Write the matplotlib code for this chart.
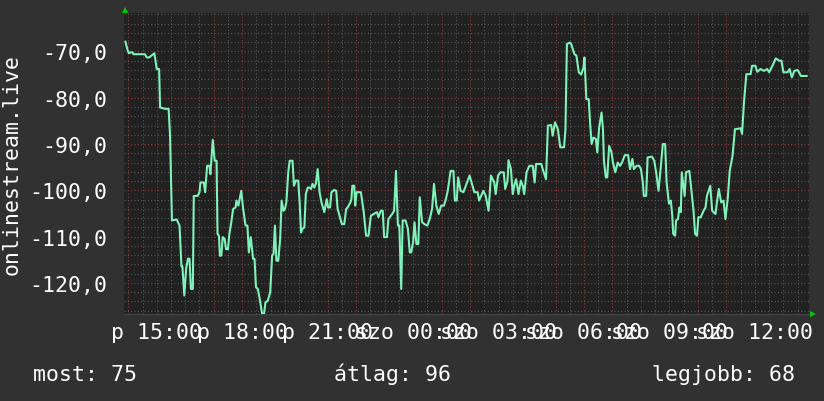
import numpy as np
import pandas as pd
import matplotlib
matplotlib.use("Agg")
import matplotlib.pyplot as plt
import matplotlib.dates as mdates
from matplotlib.ticker import MultipleLocator, FuncFormatter
from matplotlib.transforms import ScaledTranslation

# ---------------- data ----------------
START = pd.Timestamp("2024-03-01 14:00")  # péntek 14:00
series_label = "onlinestream.live"
day_names = {4: "p", 5: "szo"}
stat_names = ["most", "átlag", "legjobb"]
stat_values = [75, 96, 68]

# minutes after START
minutes = [
    -6, -2, 1, 5, 9, 11, 35, 39, 44, 49, 55, 60, 65, 67, 78, 85, 88, 92, 102, 108,
    112, 114, 118, 122, 126, 129, 132, 136, 138, 146, 150, 152, 159, 162, 166, 171, 173, 178, 182, 186,
    188, 191, 193, 196, 199, 203, 206, 210, 213, 217, 221, 226, 228, 232, 234, 238, 242, 247, 251, 254,
    258, 263, 266, 269, 273, 277, 282, 286, 289, 294, 299, 303, 306, 309, 312, 316, 320, 323, 327, 330,
    333, 337, 340, 346, 349, 353, 358, 361, 364, 367, 371, 374, 378, 381, 385, 388, 392, 395, 399, 403,
    407, 413, 418, 421, 425, 428, 434, 438, 441, 447, 450, 455, 459, 462, 468, 470, 472, 476, 478, 481,
    490, 496, 501, 506, 511, 517, 524, 527, 532, 536, 539, 545, 548, 556, 560, 564, 568, 571, 575, 578,
    584, 589, 593, 596, 600, 603, 607, 611, 614, 619, 624, 630, 635, 640, 644, 649, 654, 659, 665, 669,
    673, 679, 685, 688, 692, 695, 700, 706, 719, 725, 729, 736, 739, 748, 753, 759, 764, 771, 774, 779,
    784, 791, 794, 799, 801, 806, 810, 813, 817, 822, 827, 831, 834, 839, 845, 852, 856, 859, 870, 873,
    880, 884, 891, 894, 899, 905, 910, 918, 921, 924, 930, 933, 940, 944, 949, 954, 959, 961, 965, 970,
    973, 976, 980, 985, 988, 992, 997, 1000, 1002, 1006, 1009, 1013, 1018, 1021, 1026, 1031, 1036, 1040, 1046, 1053,
    1057, 1062, 1065, 1071, 1076, 1080, 1084, 1086, 1091, 1094, 1103, 1108, 1112, 1117, 1122, 1126, 1131, 1134, 1139, 1143,
    1146, 1148, 1152, 1154, 1158, 1161, 1164, 1166, 1172, 1175, 1182, 1186, 1191, 1194, 1198, 1201, 1206, 1212, 1216, 1219,
    1226, 1230, 1237, 1240, 1244, 1249, 1254, 1258, 1263, 1267, 1273, 1278, 1290, 1293, 1297, 1302, 1311, 1314, 1321, 1325,
    1332, 1339, 1346, 1350, 1357, 1364, 1371, 1376, 1380, 1389, 1393, 1398, 1403, 1410, 1413, 1417, 1429,
]
values = [
    -67.9, -69.5, -70.4, -70.2, -70.2, -70.6, -70.6, -71.3, -71.3, -70.9, -70.4, -73.8, -73.8, -82.1, -82.4, -82.4, -88.1, -106.5, -106.3, -107.6,
    -116.4, -116.4, -122.7, -116.8, -114.7, -114.8, -121.3, -121.3, -101.2, -101.2, -100.4, -98.3, -98.3, -100.4, -94.7, -94.7, -96.5, -89.1, -93.6, -93.6,
    -109.4, -109.8, -114.1, -114.1, -110.1, -110.5, -112.7, -112.7, -109.4, -106.9, -104.0, -103.7, -102.2, -103.3, -102.2, -100.1, -104.0, -107.6, -107.6, -113.4,
    -110.1, -114.8, -114.8, -120.9, -121.3, -123.5, -126.7, -126.7, -124.2, -123.8, -122.0, -114.1, -113.7, -107.6, -115.2, -115.2, -110.5, -102.2, -104.4, -104.0,
    -102.6, -96.1, -93.6, -93.6, -99.0, -97.9, -97.9, -102.6, -109.1, -108.3, -108.0, -100.8, -99.4, -99.4, -99.7, -98.6, -99.4, -98.6, -95.4, -100.4,
    -102.6, -104.7, -101.9, -103.7, -103.7, -100.4, -99.9, -100.1, -104.0, -106.2, -107.3, -107.3, -104.0, -103.7, -102.6, -101.9, -99.0, -99.0, -103.3, -100.4,
    -100.4, -104.7, -109.8, -109.8, -105.5, -105.1, -104.7, -105.8, -104.4, -104.4, -110.1, -110.1, -106.2, -105.1, -104.4, -95.8, -107.6, -107.6, -121.3, -106.5,
    -106.5, -108.3, -113.4, -113.4, -111.2, -106.9, -111.6, -111.6, -101.5, -106.9, -107.3, -107.6, -106.2, -104.0, -98.6, -103.3, -105.1, -103.3, -103.3, -101.9,
    -100.1, -95.8, -95.8, -102.2, -102.2, -97.2, -100.1, -100.4, -96.8, -99.0, -100.4, -100.4, -102.2, -100.1, -101.2, -104.4, -96.8, -98.3, -100.8, -96.8,
    -96.1, -96.1, -99.7, -97.9, -93.5, -95.4, -100.8, -99.0, -97.6, -100.8, -97.9, -99.0, -100.8, -96.1, -94.7, -94.7, -98.3, -94.3, -94.3, -95.4,
    -97.6, -86.0, -85.9, -88.2, -85.3, -86.8, -90.7, -90.7, -86.8, -68.4, -68.1, -68.4, -70.6, -70.9, -74.5, -75.0, -73.5, -71.3, -80.3, -80.3,
    -85.7, -90.0, -88.6, -88.9, -91.8, -86.4, -83.2, -86.8, -93.6, -97.2, -97.2, -90.4, -91.8, -94.0, -96.1, -94.0, -94.7, -94.0, -92.4, -92.4,
    -95.4, -93.2, -95.4, -94.7, -94.7, -95.4, -98.3, -101.2, -101.2, -92.9, -92.7, -93.6, -96.1, -100.1, -94.7, -90.0, -90.0, -98.3, -102.9, -102.2,
    -105.5, -109.4, -109.8, -106.5, -106.2, -103.7, -104.7, -96.1, -101.2, -96.1, -95.8, -99.7, -104.7, -109.4, -109.8, -105.8, -105.8, -104.4, -103.7, -101.2,
    -99.0, -104.4, -105.1, -102.6, -99.7, -102.6, -102.2, -106.2, -101.5, -95.8, -92.5, -86.8, -86.6, -87.8, -81.0, -74.9, -74.9, -73.1, -73.1, -74.4,
    -73.8, -74.2, -73.8, -74.5, -73.1, -71.5, -72.0, -72.0, -74.5, -74.5, -73.8, -75.6, -74.2, -74.0, -74.5, -75.3, -75.3,
]

# ---------------- style ----------------
plt.rcParams["font.family"] = ["DejaVu Sans Mono"]
W, H = 824, 402
BG_OUT = "#313131"
BG_PLOT = "#212121"
LINE = "#7ef2b9"
TXT = "#ffffff"

fig = plt.figure(figsize=(W / 100, H / 100), dpi=100, facecolor=BG_OUT)
L, R, T, B = 124, 809, 14, 315
ax = fig.add_axes([L / W, 1 - B / H, (R - L) / W, (B - T) / H], facecolor=BG_PLOT)

t = START + pd.to_timedelta(minutes, unit="min")
ax.plot(t, values, color=LINE, lw=1.5, zorder=3)

ax.set_xlim(START - pd.Timedelta(minutes=9), START + pd.Timedelta(minutes=1434))
ax.set_ylim(-126.7, -61.7)

ax.xaxis.set_major_locator(mdates.HourLocator())
ax.xaxis.set_minor_locator(mdates.MinuteLocator(byminute=[30]))
ax.yaxis.set_major_locator(MultipleLocator(10))
ax.yaxis.set_minor_locator(MultipleLocator(2))


def xfmt(x, pos):
    ts = pd.Timestamp(mdates.num2date(x)).tz_localize(None).round("min")
    if ts.hour % 3 != 0 or ts.minute != 0:
        return ""
    return f"{day_names.get(ts.weekday(), '')} {ts:%H:%M}"


ax.xaxis.set_major_formatter(FuncFormatter(xfmt))
ax.yaxis.set_major_formatter(FuncFormatter(lambda v, p: f"{v:.1f}".replace(".", ",")))

ax.set_axisbelow(True)
ax.grid(which="minor", color="#585858", ls=(0, (1, 2)), lw=0.8)
ax.grid(which="major", color="#8e3b3b", ls=(0, (1, 2)), lw=0.8)

ax.tick_params(which="both", length=0, colors=TXT, labelsize=15.5)
ax.tick_params(axis="x", pad=5.5)
ax.tick_params(axis="y", pad=12)

for s in ax.spines.values():
    s.set_visible(False)
ax.spines["bottom"].set_visible(True)
ax.spines["bottom"].set_color("#444444")
ax.spines["bottom"].set_linewidth(1.0)

# RRD-style axis arrows
ax.plot([0], [1], marker="^", color="#00cc00", ms=5, mew=0, clip_on=False,
        transform=ax.transAxes + ScaledTranslation(1 / 100, 3 / 100, fig.dpi_scale_trans))
ax.plot([1], [0], marker=">", color="#00cc00", ms=5, mew=0, clip_on=False,
        transform=ax.transAxes + ScaledTranslation(4 / 100, 0, fig.dpi_scale_trans))

fig.text(12 / W, 1 - 164.5 / H, series_label, rotation=90, ha="center", va="center",
         color=TXT, fontsize=15.5)

stat_x = [33, 334, 652]
for nm, val, xp in zip(stat_names, stat_values, stat_x):
    fig.text(xp / W, 1 - 381 / H, f"{nm}: {val}", ha="left", va="baseline",
             color=TXT, fontsize=15.5)

fig.savefig("out.png", dpi=100, facecolor=BG_OUT)
